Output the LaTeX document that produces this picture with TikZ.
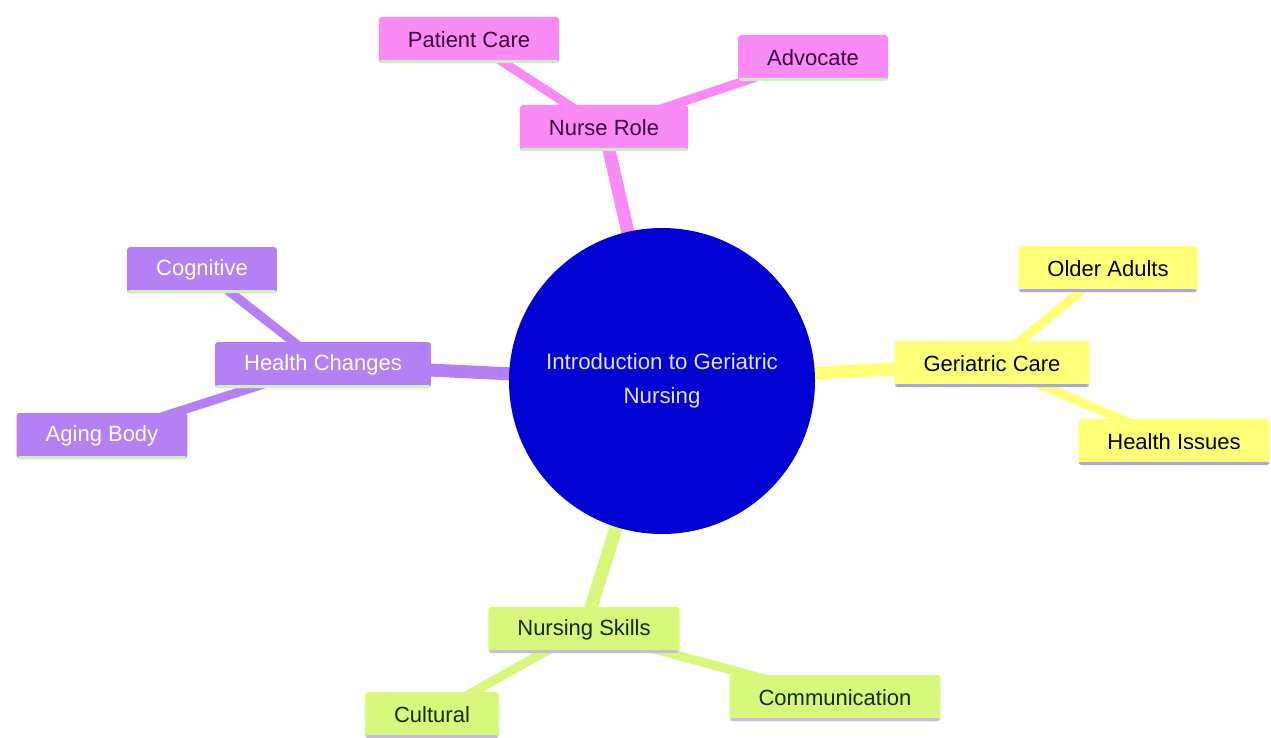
\documentclass[tikz,border=0pt]{standalone}
\usepackage{fontspec}
\setmainfont{Liberation Sans}
\usetikzlibrary{backgrounds}
\definecolor{pinkF}{RGB}{250,138,245}
\definecolor{pinkT}{RGB}{55,10,55}
\definecolor{pinkB}{RGB}{200,240,190}
\definecolor{yelF}{RGB}{255,255,120}
\definecolor{yelB}{RGB}{168,168,228}
\definecolor{purF}{RGB}{182,128,245}
\definecolor{purB}{RGB}{205,242,190}
\definecolor{grnF}{RGB}{215,248,122}
\definecolor{grnB}{RGB}{200,185,225}
\definecolor{grnT}{RGB}{25,40,0}
\definecolor{coreF}{RGB}{0,0,210}
\definecolor{coreT}{RGB}{225,225,248}
\tikzset{
  box/.style={rectangle, rounded corners=3pt, inner xsep=29pt, inner ysep=0pt,
    minimum height=46pt, font=\fontsize{22}{26}\selectfont},
  bline/.style={path picture={\fill[#1] ([yshift=-1pt]path picture bounding box.south west) rectangle ([yshift=3pt]path picture bounding box.south east);}},
  pinkbox/.style={box, fill=pinkF, text=pinkT, bline=pinkB},
  yelbox/.style={box, fill=yelF, text=black, bline=yelB},
  purbox/.style={box, fill=purF, text=white, bline=purB},
  grnbox/.style={box, fill=grnF, text=grnT, bline=grnB},
  core/.style={circle, fill=coreF, text=coreT, minimum size=306pt, inner sep=0pt,
    align=center, font=\fontsize{22.3}{34}\selectfont},
  mainedge/.style={line width=13pt, draw=#1},
  subedge/.style={line width=9pt, draw=#1},
}
\begin{document}
\begin{tikzpicture}[x=1pt,y=-1pt]
\useasboundingbox (0,0) rectangle (1271,738);
\node[core] (c) at (662,381) {Introduction to Geriatric\\Nursing};
\node[pinkbox] (nurse) at (604,128) {Nurse Role};
\node[pinkbox] (patient) at (469,40) {Patient Care};
\node[pinkbox] (advocate) at (813,58) {Advocate};
\node[yelbox] (geri) at (992,364) {Geriatric Care};
\node[yelbox] (older) at (1108,269) {Older Adults};
\node[yelbox] (issues) at (1174,442) {Health Issues};
\node[purbox] (hch) at (323,365) {Health Changes};
\node[purbox] (cog) at (202,270) {Cognitive};
\node[purbox] (aging) at (102,436) {Aging Body};
\node[grnbox] (skills) at (584,630) {Nursing Skills};
\node[grnbox] (cult) at (432,715) {Cultural};
\node[grnbox] (comm) at (835,698) {Communication};
\begin{scope}[on background layer]
\fill[white] (0,0) rectangle (1271,738);
\draw[mainedge=pinkF] (c.center) -- (nurse.center);
\draw[subedge=pinkF] (nurse.center) -- (patient.center);
\draw[subedge=pinkF] (nurse.center) -- (advocate.center);
\draw[mainedge=yelF] (c.center) -- (geri.center);
\draw[subedge=yelF] (geri.center) -- (older.center);
\draw[subedge=yelF] (geri.center) -- (issues.center);
\draw[mainedge=purF] (c.center) -- (hch.center);
\draw[subedge=purF] (hch.center) -- (cog.center);
\draw[subedge=purF] (hch.center) -- (aging.center);
\draw[mainedge=grnF] (c.center) -- (skills.center);
\draw[subedge=grnF] (skills.center) -- (cult.center);
\draw[subedge=grnF] (skills.center) -- (comm.center);
\end{scope}
\end{tikzpicture}
\end{document}
